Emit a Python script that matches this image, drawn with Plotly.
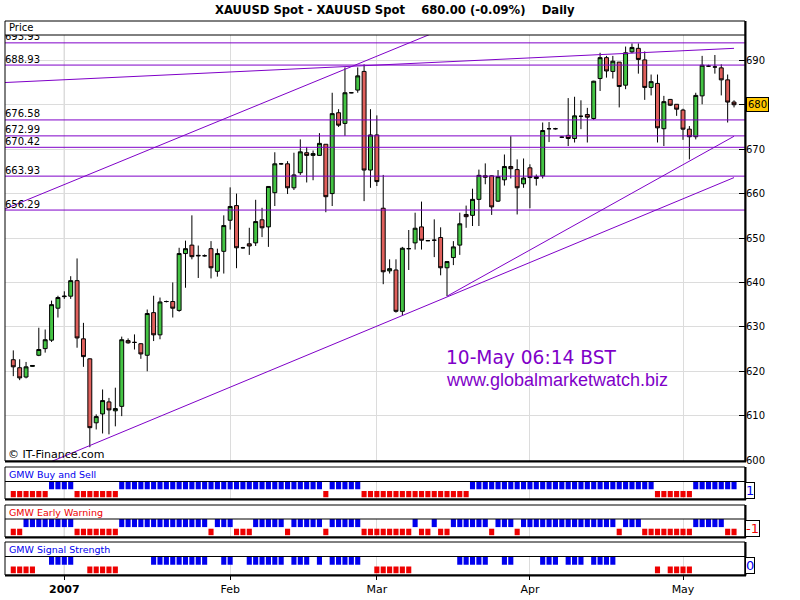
import plotly.graph_objects as go

# ---------------- data ----------------
opens = [622.6, 620.8, 618.7, 621.1, 623.6, 625.1, 627.0, 634.2, 636.8, 636.9,
         640.4, 627.3, 622.8, 608.4, 610.4, 613.1, 611.1, 612.1, 626.9, 626.5,
         626.2, 623.6, 633.2, 628.2, 635.7, 635.7, 633.7, 646.5, 648.4, 646.1,
         646.0, 647.6, 642.5, 647.0, 654.0, 657.3, 647.8, 648.7, 648.9, 654.1,
         652.5, 660.2, 666.7, 666.7, 661.3, 664.7, 669.2, 668.6, 668.6, 671.1,
         660.0, 678.2, 675.8, 682.7, 683.3, 687.5, 665.3, 673.2, 656.7, 642.6,
         642.8, 633.5, 647.6, 648.9, 652.5, 649.4, 649.5, 650.1, 643.3, 645.6,
         648.4, 655.3, 655.1, 658.7, 664.0, 664.0, 658.3, 663.1, 666.1, 665.4,
         662.2, 665.8, 663.4, 664.0, 674.6, 674.6, 672.7, 673.1, 672.4, 677.4,
         677.8, 676.9, 685.9, 690.6, 687.5, 689.6, 684.4, 691.9, 692.7, 690.1,
         683.9, 684.8, 674.6, 681.2, 680.1, 678.8, 674.5, 672.8, 682.0, 688.7,
         688.5, 688.3, 685.6, 680.6]
highs = [624.7, 622.7, 622.1, 621.4, 629.8, 629.4, 635.9, 637.0, 638.0, 641.4,
         645.4, 630.9, 622.9, 610.3, 615.9, 614.0, 616.3, 627.8, 627.4, 628.3,
         626.3, 633.9, 637.0, 636.6, 635.9, 640.0, 647.8, 649.4, 655.1, 648.3,
         646.3, 649.3, 647.6, 655.1, 661.4, 660.0, 648.0, 652.3, 658.6, 656.8,
         661.6, 669.3, 666.9, 667.3, 669.2, 672.2, 670.5, 669.7, 673.6, 671.1,
         682.7, 679.0, 688.4, 682.8, 688.4, 689.1, 679.0, 677.6, 664.2, 645.2,
         645.2, 648.0, 651.8, 655.7, 658.2, 649.5, 654.2, 652.4, 644.7, 649.3,
         655.7, 657.3, 661.1, 665.4, 666.8, 664.1, 665.3, 668.8, 672.9, 667.7,
         667.9, 666.6, 664.3, 676.0, 676.1, 674.8, 672.9, 681.5, 681.8, 681.0,
         679.3, 685.4, 691.7, 691.0, 691.0, 689.6, 693.1, 693.8, 693.8, 692.0,
         686.8, 686.8, 682.0, 681.3, 680.1, 679.1, 675.2, 682.7, 691.0, 689.0,
         691.2, 689.1, 686.8, 681.0]
lows = [618.9, 618.0, 618.4, 621.0, 623.4, 624.2, 626.6, 632.1, 636.3, 636.3,
        625.3, 621.0, 602.9, 606.9, 606.0, 605.8, 607.6, 609.9, 626.2, 624.9,
        622.8, 620.0, 626.8, 627.2, 635.5, 632.1, 633.4, 638.8, 645.2, 641.0,
        645.8, 640.9, 641.3, 642.0, 651.9, 643.2, 647.6, 646.2, 648.2, 650.2,
        648.0, 657.2, 666.5, 659.9, 660.8, 664.2, 662.5, 663.0, 668.5, 655.8,
        657.2, 675.0, 673.0, 682.6, 682.7, 658.3, 661.3, 661.7, 639.6, 642.0,
        633.2, 632.6, 642.8, 647.4, 647.4, 649.3, 645.7, 641.6, 636.9, 643.9,
        646.2, 652.3, 652.7, 652.7, 662.1, 655.2, 658.1, 661.8, 663.4, 655.3,
        661.3, 656.7, 661.8, 663.4, 671.6, 674.4, 672.5, 670.7, 671.5, 674.5,
        671.5, 676.6, 683.1, 686.1, 685.9, 679.4, 683.5, 691.6, 687.0, 681.1,
        682.1, 671.5, 670.7, 679.7, 677.5, 672.1, 667.7, 672.2, 680.1, 688.5,
        687.0, 682.1, 676.0, 679.4]
closes = [621.0, 618.5, 621.0, 621.3, 624.9, 627.1, 635.0, 636.6, 636.9, 640.4,
          627.5, 623.3, 607.3, 609.8, 613.4, 611.3, 611.6, 627.1, 626.4, 626.5,
          623.9, 633.0, 628.2, 635.6, 635.7, 634.2, 646.5, 647.6, 645.8, 646.0,
          646.0, 643.3, 646.5, 652.8, 657.1, 647.8, 647.8, 648.2, 653.7, 652.3,
          661.6, 666.7, 666.7, 661.3, 664.2, 669.4, 668.6, 669.0, 671.3, 659.3,
          678.0, 675.4, 682.7, 682.7, 686.5, 665.3, 673.2, 662.7, 642.4, 643.1,
          633.5, 647.7, 647.6, 652.2, 649.5, 649.4, 649.5, 643.3, 644.7, 648.0,
          653.2, 654.8, 658.7, 664.1, 663.7, 657.0, 663.8, 666.1, 665.6, 661.3,
          663.5, 663.6, 663.8, 674.2, 674.6, 674.6, 672.7, 672.4, 677.5, 677.4,
          677.2, 685.3, 690.6, 687.6, 689.8, 684.1, 691.7, 692.9, 690.2, 683.9,
          685.2, 674.8, 680.7, 679.9, 679.0, 674.5, 672.8, 682.1, 688.9, 688.7,
          688.5, 685.6, 680.6, 680.0]

# signal panels: 1 = blue (up), -1 = red (down), 0 = none
buy_sell = [-1, -1, -1, -1, -1, -1, 1, 1, 1, 1,
            -1, -1, -1, -1, -1, -1, -1, 1, 1, 1,
            1, 1, 1, 1, 1, 1, 1, 1, 1, 1,
            1, 1, 1, 1, 1, 1, 1, 1, 1, 1,
            1, 1, 1, 1, 1, 1, 1, 1, 1, -1,
            1, 1, 1, 1, 1, -1, -1, -1, -1, -1,
            -1, -1, -1, -1, -1, -1, -1, -1, -1, -1,
            -1, -1, 1, 1, 1, 1, 1, 1, 1, 1,
            1, 1, 1, 1, 1, 1, 1, 1, 1, 1,
            1, 1, 1, 1, 1, 1, 1, 1, 1, 1,
            1, -1, -1, -1, -1, -1, -1, 1, 1, 1,
            1, 1, 1, 1]
early_warning = [-1, -1, 1, 1, 1, 1, 1, 1, 1, 1,
                 -1, -1, -1, -1, -1, -1, -1, 1, 1, 1,
                 1, 1, 1, 1, 1, 1, 1, 1, 1, 1,
                 1, -1, 1, 1, 1, -1, -1, -1, 1, 1,
                 1, 1, 1, -1, 1, 1, 1, 1, 1, -1,
                 1, 1, 1, 1, 1, -1, -1, -1, -1, -1,
                 -1, -1, -1, 1, -1, -1, 1, -1, -1, 1,
                 1, 1, 1, 1, 1, -1, 1, 1, 1, -1,
                 1, 1, 1, 1, 1, 1, 1, 1, 1, 1,
                 1, 1, 1, 1, 1, -1, 1, 1, 1, -1,
                 -1, -1, -1, -1, -1, -1, -1, 1, 1, 1,
                 1, 1, -1, -1]
signal_strength = [-1, -1, -1, -1, 0, 0, 1, 1, 1, 1,
                   0, 0, -1, -1, -1, -1, -1, 0, 0, 0,
                   0, 0, 1, 1, 1, 1, 1, 1, 1, 1,
                   1, 0, 0, 1, 1, 0, 0, 1, 1, 1,
                   1, 1, 1, 0, 1, 1, 1, 0, 1, 0,
                   1, 1, 1, 1, 1, 0, 0, -1, -1, -1,
                   -1, -1, -1, 0, 0, 0, 0, 0, 0, 0,
                   1, 1, 1, 1, 1, 0, 0, 1, 1, 0,
                   0, 0, 0, 1, 1, 1, 0, 1, 1, 1,
                   0, 1, 1, 1, 1, 0, 0, 0, 0, 0,
                   0, -1, 0, -1, -1, -1, -1, 0, 0, 0,
                   0, 0, 0, 0]
panel_titles = ["GMW Buy and Sell", "GMW Early Warning", "GMW Signal Strength"]
panel_values = ["1", "-1", "0"]

month_ticks = [8, 34, 57, 81, 105]
month_labels = ["<b>2007</b>", "Feb", "Mar", "Apr", "May"]
price_ticks = [600, 610, 620, 630, 640, 650, 660, 670, 680, 690]
price_tick_labels = ["600", "610", "620", "630", "640", "650", "660", "670", "", "690"]
level_values = [693.93, 688.93, 676.58, 672.99, 670.42, 663.93, 656.29]
# trend lines: (start bar, start price, end bar, end price)
trend_lines = [
    (-1.3, 656.55, 70.0, 698.6),    # upper channel line
    (4.0, 598.5, 113.0, 663.6),     # lower channel / support line
    (68.0, 636.9, 113.0, 672.9),    # steeper fan line
    (-1.3, 685.0, 113.0, 692.7),    # shallow resistance line
]
last_price = 680.00
title_text = "XAUUSD Spot - XAUUSD Spot\u00a0\u00a0\u00a0\u00a0680.00 (-0.09%)\u00a0\u00a0\u00a0\u00a0Daily"

# ---------------- styles ----------------
PURPLE = "#7f00c8"
GREEN = "#44c444"
RED = "#e0605c"
BLUE_SQ = "#0000ee"
RED_SQ = "#ee0000"
GRID = "#dcdcdc"
FONT = "DejaVu Sans"

W, H = 800, 600
ML, MR, MT, MB = 5, 55, 35, 25
PW, PH = W - ML - MR, H - MT - MB


def px(x):
    return (x - ML) / PW


def py(y):
    return (H - MB - y) / PH


bars = list(range(len(opens)))
XR = [-1.3, 114.72]

fig = go.Figure()

fig.add_trace(go.Candlestick(
    x=bars, open=opens, high=highs, low=lows, close=closes,
    increasing=dict(line=dict(color="black", width=1), fillcolor=GREEN),
    decreasing=dict(line=dict(color="black", width=1), fillcolor=RED),
    whiskerwidth=0, showlegend=False, hoverinfo="skip",
    xaxis="x", yaxis="y"))

for (x0, y0, x1, y1) in trend_lines:
    fig.add_trace(go.Scatter(x=[x0, x1], y=[y0, y1], mode="lines",
                             line=dict(color=PURPLE, width=1),
                             showlegend=False, hoverinfo="skip",
                             xaxis="x", yaxis="y"))

# level labels (clipped by plot area like the original)
fig.add_trace(go.Scatter(x=[XR[0]] * len(level_values), y=level_values,
                         mode="text", text=["%.2f" % v for v in level_values],
                         textposition="top right", cliponaxis=True,
                         textfont=dict(family=FONT, size=10, color="black"),
                         showlegend=False, hoverinfo="skip",
                         xaxis="x", yaxis="y"))

signals = [buy_sell, early_warning, signal_strength]
for k, sig in enumerate(signals):
    xa, ya = "x%d" % (k + 2), "y%d" % (k + 2)
    up = [i for i, s in zip(bars, sig) if s == 1]
    dn = [i for i, s in zip(bars, sig) if s == -1]
    fig.add_trace(go.Bar(x=up, y=[0.45] * len(up), base=0.55, width=0.8,
                         marker=dict(color=BLUE_SQ, line=dict(width=0)),
                         showlegend=False, hoverinfo="skip", xaxis=xa, yaxis=ya))
    fig.add_trace(go.Bar(x=dn, y=[0.36] * len(dn), base=0.1, width=0.8,
                         marker=dict(color=RED_SQ, line=dict(width=0)),
                         showlegend=False, hoverinfo="skip", xaxis=xa, yaxis=ya))

# panel geometry in pixels: (header top, separator, bottom)
panels = [(467, 481.5, 499), (505, 519, 537), (542, 556.5, 575)]

xaxis_common = dict(range=XR, tickvals=month_ticks, showgrid=True, gridcolor=GRID,
                    gridwidth=1, zeroline=False, showline=False, fixedrange=True)

layout = dict(
    width=W, height=H, margin=dict(l=ML, r=MR, t=MT, b=MB),
    paper_bgcolor="white", plot_bgcolor="white", showlegend=False,
    barmode="overlay", boxgap=0.12,
    xaxis=dict(domain=[0, 1], anchor="y", showticklabels=False, ticks="",
               rangeslider=dict(visible=False), **xaxis_common),
    yaxis=dict(domain=[py(461), 1], range=[599.8, 695.7], side="right",
               tickvals=price_ticks, ticktext=price_tick_labels,
               ticks="inside", ticklen=6, tickcolor="black",
               showgrid=True, gridcolor=GRID, zeroline=False, showline=False,
               tickfont=dict(family=FONT, size=10, color="black"), fixedrange=True),
)
for k, (top, sep, bot) in enumerate(panels):
    xa, ya = "xaxis%d" % (k + 2), "yaxis%d" % (k + 2)
    last = (k == 2)
    layout[xa] = dict(domain=[0, 1], anchor="y%d" % (k + 2),
                      showticklabels=last, ticks="outside" if last else "",
                      ticklen=4, tickcolor="black",
                      ticktext=month_labels,
                      tickfont=dict(family=FONT, size=11, color="black"),
                      **xaxis_common)
    layout[ya] = dict(domain=[max(0, py(bot)), py(sep)], range=[0, 1],
                      showticklabels=False, ticks="", showgrid=False,
                      zeroline=False, showline=False, fixedrange=True)

fig.update_layout(**layout)

shapes = []
# darker year gridline
for ax, ya in [("x", "y"), ("x2", "y2"), ("x3", "y3"), ("x4", "y4")]:
    shapes.append(dict(type="line", xref=ax, yref=ya + " domain", x0=month_ticks[0],
                       x1=month_ticks[0], y0=0, y1=1,
                       line=dict(color="#a0a0a0", width=1), layer="below"))
# horizontal levels
for v in level_values:
    shapes.append(dict(type="line", xref="paper", yref="y", x0=0, x1=1, y0=v, y1=v,
                       line=dict(color=PURPLE, width=1)))
# frames
frames = [(21, 35, 461)] + panels
for (top, sep, bot) in frames:
    shapes.append(dict(type="rect", xref="paper", yref="paper", x0=0, x1=1,
                       y0=py(bot), y1=py(top), line=dict(color="black", width=1)))
    shapes.append(dict(type="line", xref="paper", yref="paper", x0=0, x1=1,
                       y0=py(sep), y1=py(sep), line=dict(color="black", width=1)))
    shapes.append(dict(type="line", xref="paper", yref="paper", x0=px(745.5), x1=px(745.5),
                       y0=py(bot + 0.5), y1=py(top), line=dict(color="black", width=2)))
    shapes.append(dict(type="line", xref="paper", yref="paper", x0=0, x1=px(746),
                       y0=py(bot + 0.5), y1=py(bot + 0.5), line=dict(color="black", width=2)))
fig.update_layout(shapes=shapes)

ann = []
ann.append(dict(text="<b>" + title_text + "</b>", xref="paper", yref="paper",
                x=px(395), y=py(10), xanchor="center", yanchor="middle", showarrow=False,
                font=dict(family=FONT, size=11.6, color="black")))
ann.append(dict(text="Price", xref="paper", yref="paper", x=px(7), y=py(28),
                xanchor="left", yanchor="middle", showarrow=False,
                font=dict(family=FONT, size=10, color="black")))
ann.append(dict(text="\u00a9 IT-Finance.com", xref="paper", yref="paper", x=px(6), y=py(454),
                xanchor="left", yanchor="middle", showarrow=False,
                font=dict(family=FONT, size=11, color="black")))
ann.append(dict(text="10-May 06:14 BST", xref="paper", yref="paper", x=px(444), y=py(357),
                xanchor="left", yanchor="middle", showarrow=False,
                font=dict(family=FONT, size=18.6, color=PURPLE)))
ann.append(dict(text="www.globalmarketwatch.biz", xref="paper", yref="paper", x=px(444),
                y=py(380), xanchor="left", yanchor="middle", showarrow=False,
                font=dict(family="Liberation Sans", size=18, color=PURPLE)))
ann.append(dict(text="680", xref="paper", yref="y", x=1, xshift=1, y=last_price,
                xanchor="left", yanchor="middle", showarrow=False,
                bgcolor="#ffc800", bordercolor="black", borderwidth=1, borderpad=1,
                font=dict(family=FONT, size=10, color="black")))
title_colors = ["#0000ee", "#ee0000", "#0000ee"]
value_colors = ["#0000ee", "#ee0000", "#0000ee"]
for k, (top, sep, bot) in enumerate(panels):
    ann.append(dict(text=panel_titles[k], xref="paper", yref="paper", x=px(7),
                    y=py((top + sep) / 2), xanchor="left", yanchor="middle", showarrow=False,
                    font=dict(family=FONT, size=9.5, color=title_colors[k])))
    ann.append(dict(text=panel_values[k], xref="paper", yref="paper", x=1, xshift=0,
                    y=py((sep + bot) / 2), xanchor="left", yanchor="middle", showarrow=False,
                    bgcolor="white", bordercolor="black", borderwidth=1, borderpad=0,
                    font=dict(family=FONT, size=13, color=value_colors[k])))
fig.update_layout(annotations=ann)

fig.write_html("out.html", config={"displayModeBar": False},
               post_script="document.body.style.margin='0';document.body.style.overflow='hidden';")
